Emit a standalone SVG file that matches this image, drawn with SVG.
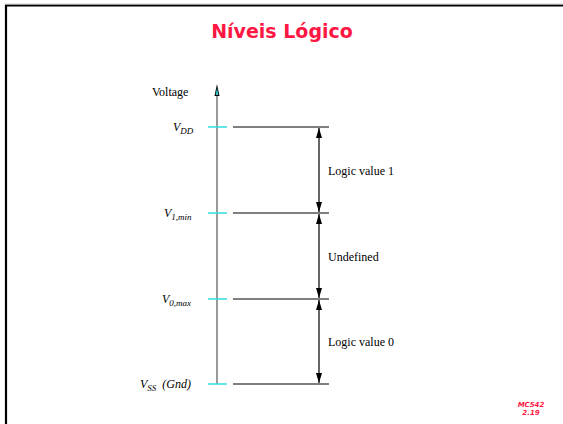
<svg xmlns="http://www.w3.org/2000/svg" width="563" height="424" viewBox="0 0 563 424">
  <style>
    .lbl { font-family: "Liberation Serif", "Times New Roman", serif; font-size: 12px; fill: #000; }
    .vl { font-family: "Liberation Serif", "Times New Roman", serif; font-style: italic; font-size: 12px; fill: #000; }
    .sub { font-size: 9px; }
    .tick { stroke: #33dddd; stroke-width: 1.5; }
    .lvl { stroke: #000; stroke-width: 1.2; }
    .dim { stroke: #000; stroke-width: 1.2; fill: none; }
    .title { font-family: "DejaVu Sans", "Liberation Sans", sans-serif; font-weight: bold; font-size: 19px; fill: #ff1744; }
    .tag { font-family: "DejaVu Sans", sans-serif; font-weight: bold; font-style: italic; font-size: 7px; fill: #ff1744; }
  </style>
  <defs>
    <marker id="ah" viewBox="0 0 10 6" refX="10" refY="3" markerWidth="10" markerHeight="6" markerUnits="userSpaceOnUse" orient="auto-start-reverse">
      <path d="M0,0 L10,3 L0,6 Z" fill="#000"/>
    </marker>
  </defs>

  <rect width="563" height="424" fill="#fff"/>
  <!-- slide frame -->
  <path d="M6,424 V5.5 H563" fill="none" stroke="#000" stroke-width="2.2"/>
  <path d="M5,4.2 H563" stroke="#aaa" stroke-width="0.8"/>

  <text class="title" x="282" y="38" text-anchor="middle">Níveis Lógico</text>

  <!-- voltage axis -->
  <g id="axis">
    <line x1="217" y1="92" x2="217" y2="384" stroke="#777" stroke-width="1.5"/>
    <path d="M217,84 L214.5,96 L219.5,96 Z" fill="#000"/>
    <path d="M217,88 L215.6,95 L218.4,95 Z" fill="#2bc8d0"/>
    <text class="lbl" x="152" y="96">Voltage</text>
  </g>

  <g id="vdd">
    <line class="tick" x1="208" y1="127" x2="227" y2="127"/>
    <line class="lvl" x1="233" y1="127" x2="329" y2="127"/>
    <text class="vl" x="173" y="131">V<tspan class="sub" dy="3">DD</tspan></text>
  </g>
  <g id="v1min">
    <line class="tick" x1="208" y1="213" x2="227" y2="213"/>
    <line class="lvl" x1="233" y1="213" x2="329" y2="213"/>
    <text class="vl" x="164" y="217">V<tspan class="sub" dy="3">1,min</tspan></text>
  </g>
  <g id="v0max">
    <line class="tick" x1="208" y1="299" x2="227" y2="299"/>
    <line class="lvl" x1="233" y1="299" x2="329" y2="299"/>
    <text class="vl" x="162" y="303">V<tspan class="sub" dy="3">0,max</tspan></text>
  </g>
  <g id="vss">
    <line class="tick" x1="208" y1="384" x2="227" y2="384"/>
    <line class="lvl" x1="233" y1="384" x2="329" y2="384"/>
    <text class="vl" x="140" y="388">V<tspan class="sub" dy="3">SS</tspan><tspan dy="-3" dx="6">(Gnd)</tspan></text>
  </g>

  <!-- range dimension arrows -->
  <g id="connectors">
    <line class="dim" x1="319" y1="128" x2="319" y2="212" marker-start="url(#ah)" marker-end="url(#ah)"/>
    <line class="dim" x1="319" y1="214" x2="319" y2="298" marker-start="url(#ah)" marker-end="url(#ah)"/>
    <line class="dim" x1="319" y1="300" x2="319" y2="383" marker-start="url(#ah)" marker-end="url(#ah)"/>
  </g>

  <g id="ranges">
    <text class="lbl" x="328" y="175">Logic value 1</text>
    <text class="lbl" x="328" y="261">Undefined</text>
    <text class="lbl" x="328" y="346">Logic value 0</text>
  </g>

  <text class="tag" x="531" y="407" text-anchor="middle">MC542</text>
  <text class="tag" x="531" y="415" text-anchor="middle">2.19</text>
</svg>
